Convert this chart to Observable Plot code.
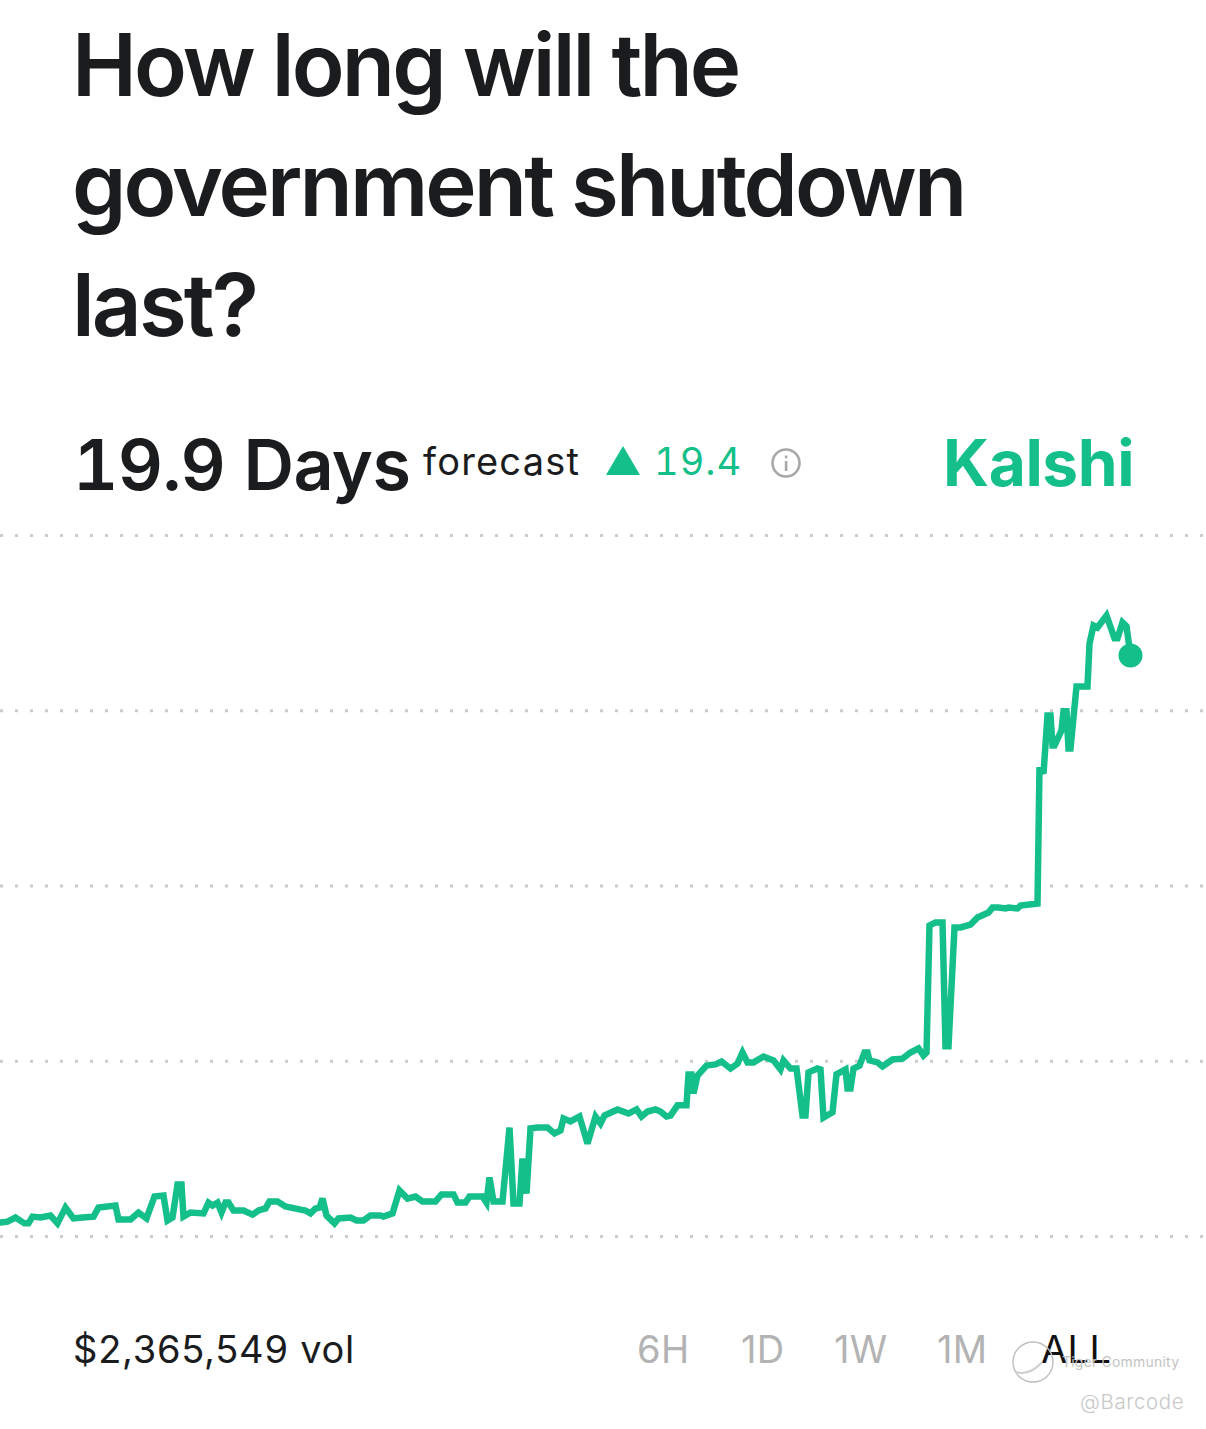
<!DOCTYPE html>
<html><head><meta charset="utf-8">
<script src="https://cdn.jsdelivr.net/npm/d3@7"></script>
<script src="https://cdn.jsdelivr.net/npm/@observablehq/plot@0.6"></script>
<style>
html,body{margin:0;padding:0;background:#fff;width:1206px;height:1429px;overflow:hidden}
body{position:relative;font-family:Inter,"Liberation Sans",sans-serif}
.t{position:absolute;white-space:nowrap;line-height:1}
#chart{position:absolute;left:0;top:520px}
#chart svg{display:block;background:transparent}
</style></head><body>
<div id="chart"></div>
<div id="texts"></div>
<script>
const titleLines = ["How long will the","government shutdown","last?"];
const forecastText = "19.9 Days", forecastWord = "forecast", changeText = "19.4", brand = "Kalshi", volume = "$2,365,549 vol";
const ranges = ["6H","1D","1W","1M","ALL"];
const rangeX = [637,741,834,937,1041];
const gridDays = [0,6,12,18,24];
const timeline = [0,7,15,24,28,32,40,50,57,65,73,82,93,98,115,118,130,138,146,154,163,167,172,177,181,183,190,203,208,212,
217,221,225,228,233,243,252,258,265,269,277,285,300,305,310,315,319,322,326,334,338,350,356,363,370,380,383,392,399,
407,415,422,435,441,453,457,465,469,482,486,489,493,502,509,513,519,522,526,530,537,547,554,560,563,570,579,587,595,600,604,
617,628,636,641,647,655,660,666,670,677,686,688,691,693,697,706,715,721,730,737,742,747,753,763,773,780,783,790,796,
802,805,808,817,820,823,832,836,845,847,850,853,859,864,867,869,877,882,892,902,910,918,923,926,
929,935,942,945,948,954,960,970,977,988,992,998,1005,1008,1017,1020,1037,
1039,1043,1047,1050,1052,1054,1061,1063,1066,1068,1070,1076,1087,1089,1093,1097,1106,1114,1117,1122,1126,1130];
const days = [.48,.51,.65,.45,.45,.68,.65,.72,.45,.99,.62,.65,.68,.99,1.06,.58,.58,.82,.62,1.37,1.40,.55,.65,1.78,1.78,.68,.82,.79,1.16,1.06,
1.16,.82,1.16,1.16,.89,.89,.75,.89,.96,1.20,1.20,1.03,.92,.89,.79,.96,.99,1.30,.72,.45,.62,.65,.55,.55,.72,.72,.68,.79,1.58,
1.30,1.37,1.20,1.20,1.44,1.44,1.16,1.16,1.37,1.37,1.16,2.02,1.20,1.20,3.73,1.13,1.13,2.67,1.47,3.70,3.73,3.73,3.53,3.63,4.04,3.94,4.11,3.18,4.11,3.87,4.14,
4.35,4.21,4.35,4.11,4.28,4.35,4.28,4.11,4.14,4.49,4.49,5.55,5.55,4.90,5.51,5.85,5.89,5.99,5.75,5.92,6.30,5.96,5.96,6.16,6.03,5.72,6.03,5.75,5.75,
4.14,4.14,5.62,5.75,5.72,4.07,4.25,5.55,5.72,5.07,5.07,5.75,5.85,6.30,6.30,6.03,5.96,5.82,6.06,6.09,6.30,6.44,6.20,6.30,
10.65,10.75,10.75,6.51,6.51,10.58,10.58,10.68,10.92,11.09,11.26,11.26,11.23,11.26,11.23,11.33,11.40,
16.06,15.85,17.84,17.84,16.81,16.81,17.33,17.98,17.98,16.71,16.71,18.83,18.83,20.30,20.92,20.85,21.26,20.48,20.48,21.02,20.89,19.89];

const GREEN = "#14bf8a";
const last = timeline.length - 1;
const chart = Plot.plot({
  width:1206, height:740, marginTop:15, marginBottom:24, marginLeft:0, marginRight:0,
  x:{domain:[0,1206], axis:null},
  y:{domain:[0,24], axis:null},
  marks:[
    Plot.ruleY(gridDays,{stroke:"#cccccc",strokeWidth:3,strokeDasharray:"3,12"}),
    Plot.line(days,{x:(d,i)=>timeline[i],y:d=>d,stroke:GREEN,strokeWidth:6.5,curve:"linear",strokeLinejoin:"miter",strokeMiterlimit:3}),
    Plot.dot([days[last]],{x:()=>timeline[last],y:d=>d,r:12,fill:GREEN,stroke:null})
  ]
});
document.getElementById("chart").append(chart);

const box = document.getElementById("texts");
function put(text,x,y,size,weight,color,extra={}){
  const el=document.createElement("div");el.className="t";el.textContent=text;
  Object.assign(el.style,{left:x+"px",top:y+"px",fontSize:size+"px",fontWeight:weight,color},extra);
  box.append(el);return el;
}
const DARK="#1b1c1e";
const tnum={fontVariantNumeric:"tabular-nums"};
titleLines.forEach((s,i)=>put(s,72,[21,141,261][i],87,600,DARK,{letterSpacing:"-2.9px"}));
put(forecastText,73,430,70,600,DARK,{letterSpacing:"-0.6px",...tnum});
put(forecastWord,423,442,38,400,DARK,{letterSpacing:"1.2px"});
put(changeText,654,442,38,400,GREEN,{letterSpacing:"1px",...tnum});
put(brand,943,431,64,700,GREEN,{letterSpacing:"-0.4px"});
put(volume,73,1330,38,400,DARK,{letterSpacing:"0.75px"});
ranges.forEach((r,i)=>put(r,rangeX[i],1330,38,400,i===4?"#111":"#b3b3b3",{letterSpacing:"0.4px"}));
put("Tiger Community",1062,1355,14,400,"#c4c4c4",{letterSpacing:"0.2px"});
put("@Barcode",1080,1392,20.5,300,"#c8c8c8",{letterSpacing:"0.6px"});

// triangle, info icon and watermark ring
const ns="http://www.w3.org/2000/svg";
const ov=document.createElementNS(ns,"svg");
ov.setAttribute("width",1206);ov.setAttribute("height",1429);
ov.style.cssText="position:absolute;left:0;top:0;pointer-events:none";
ov.innerHTML=`<polygon points="623,446 640,475 606,475" fill="${GREEN}"/>
<circle cx="786" cy="463" r="13.5" fill="none" stroke="#a8a8a8" stroke-width="2.6"/>
<rect x="784.8" y="461" width="2.6" height="10" fill="#a8a8a8"/><rect x="784.8" y="455.5" width="2.6" height="2.8" fill="#a8a8a8"/>
<circle cx="1033" cy="1362" r="20" fill="none" stroke="#bdbdbd" stroke-width="1.4"/>
<path d="M1016 1372q14 4 26-10" fill="none" stroke="#cfcfcf" stroke-width="2"/>`;
document.body.append(ov);
</script></body></html>
